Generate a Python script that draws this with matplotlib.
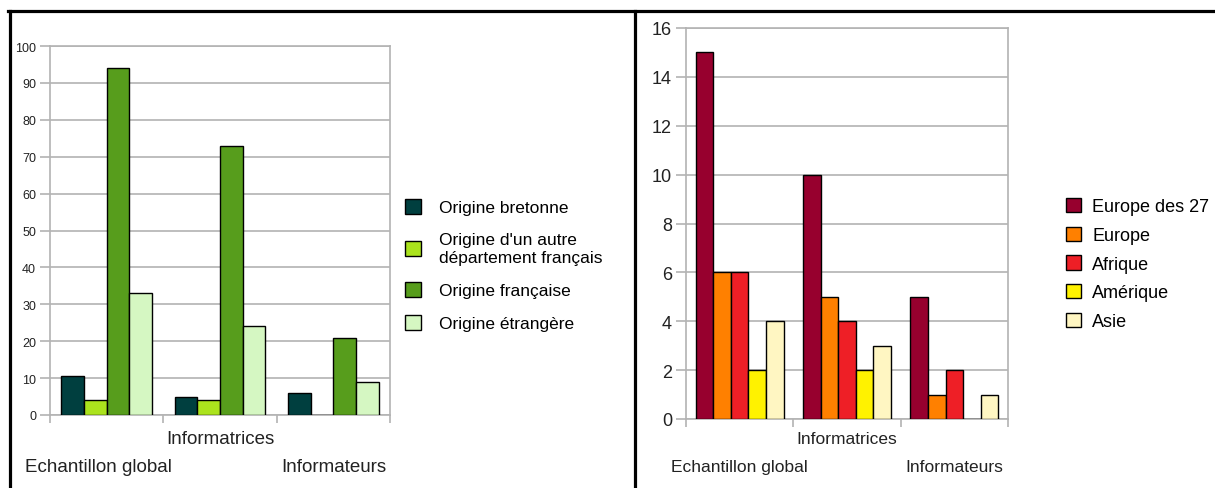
import numpy as np
import matplotlib
matplotlib.use("Agg")
import matplotlib.pyplot as plt
from matplotlib.lines import Line2D
from matplotlib.transforms import blended_transform_factory

# --- data -------------------------------------------------------------
categories = ["Echantillon global", "Informatrices", "Informateurs"]

origin_labels = ["Origine bretonne", "Origine d'un autre\ndépartement français",
                 "Origine française", "Origine étrangère"]
origin_bretonne = [10.7, 5, 6]
origin_autre_dept = [4, 4, 0]
origin_francaise = [94, 73, 21]
origin_etrangere = [33, 24, 9]

region_labels = ["Europe des 27", "Europe", "Afrique", "Amérique", "Asie"]
europe27 = [15, 10, 5]
europe = [6, 5, 1]
afrique = [6, 4, 2]
amerique = [2, 2, 0]
asie = [4, 3, 1]

left_colors = ["#003f3f", "#abe31d", "#579d1c", "#d5f7c2"]
right_colors = ["#97002e", "#ff8000", "#ee1f26", "#fff200", "#fff6c2"]

plt.rcParams['font.family'] = ['Liberation Sans', 'DejaVu Sans']

W, H = 1215, 489
fig = plt.figure(figsize=(W / 100, H / 100), dpi=100)
fig.patch.set_facecolor("white")

grid_col = "#b3b3b3"


def draw_panel(ax, series, labels, colors, width, ymax, ystep, tick_fs, cat_fs, first_shift=0.0):
    x = np.arange(len(categories))
    n = len(series)
    for i, (vals, lab, col) in enumerate(zip(series, labels, colors)):
        offs = (i - (n - 1) / 2) * width
        ax.bar(x + offs, vals, width, color=col, edgecolor="black",
               linewidth=1, label=lab, zorder=3)
    ax.set_xlim(-0.5, len(categories) - 0.5)
    ax.set_ylim(0, ymax)
    ax.set_yticks(np.arange(0, ymax + 1, ystep))
    ax.set_xticks(np.arange(len(categories) + 1) - 0.5)
    ax.set_xticklabels([])
    ax.yaxis.grid(True, color=grid_col, linewidth=1.2, zorder=0)
    ax.set_axisbelow(True)
    for sp in ax.spines.values():
        sp.set_color(grid_col)
        sp.set_linewidth(1.2)
    ax.tick_params(axis="y", length=7, color=grid_col, width=1.2,
                   labelsize=tick_fs, labelcolor="#222222", pad=3)
    ax.tick_params(axis="x", length=6, color=grid_col, width=1.2)
    # staggered category labels
    tr = blended_transform_factory(ax.transData, fig.transFigure)
    rows = [1 - 468 / H, 1 - 440 / H, 1 - 468 / H]
    for xi, (cat, yy) in enumerate(zip(categories, rows)):
        xx = xi + (first_shift if xi == 0 else 0)
        ax.text(xx, yy, cat, transform=tr, ha="center", va="center",
                fontsize=cat_fs, color="#222222")


# left panel
ax1 = fig.add_axes([50 / W, 1 - 416 / H, 340 / W, 369 / H])
draw_panel(ax1, [origin_bretonne, origin_autre_dept, origin_francaise, origin_etrangere],
           origin_labels, left_colors, 0.2, 100, 10, 9, 13.5, first_shift=-0.07)
leg1 = ax1.legend(loc="center left", bbox_to_anchor=(405 / W, 1 - 266 / H),
                  bbox_transform=fig.transFigure, frameon=False, fontsize=12.5,
                  handlelength=0.95, handleheight=0.95, handletextpad=1.0,
                  labelspacing=0.95, borderpad=0, borderaxespad=0)
for t in leg1.get_texts():
    t.set_linespacing(1.3)

# right panel
ax2 = fig.add_axes([686 / W, 1 - 420 / H, 322 / W, 391 / H])
draw_panel(ax2, [europe27, europe, afrique, amerique, asie],
           region_labels, right_colors, 0.164, 16, 2, 13, 12.5)
ax2.legend(loc="center left", bbox_to_anchor=(1066 / W, 1 - 265 / H),
           bbox_transform=fig.transFigure, frameon=False, fontsize=13,
           handlelength=0.85, handleheight=0.85, handletextpad=0.6,
           labelspacing=0.62, borderpad=0, borderaxespad=0)

# black frame lines around the two panels
lw = 2.3
fig.add_artist(Line2D([8 / W, 1], [1 - 12 / H, 1 - 12 / H], color="black", lw=lw))
fig.add_artist(Line2D([9.5 / W, 9.5 / W], [0, 1 - 12 / H], color="black", lw=lw))
fig.add_artist(Line2D([635 / W, 635 / W], [0, 1 - 12 / H], color="black", lw=lw))

fig.savefig("out.png", dpi=100)
